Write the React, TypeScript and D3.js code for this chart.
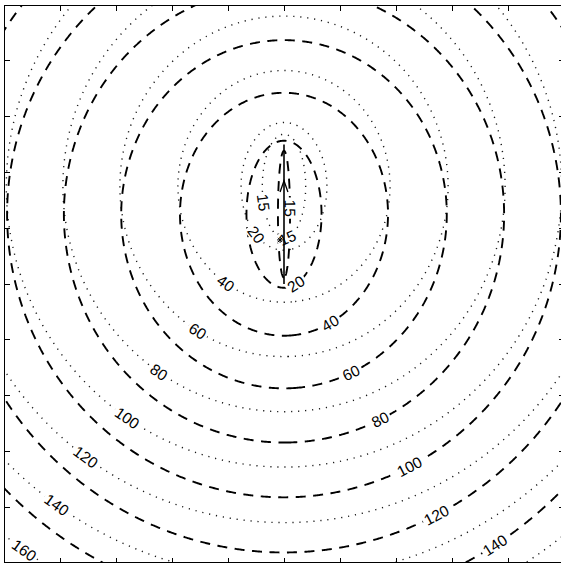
import React, { useMemo } from "react";
import * as d3 from "d3";

const WIDTH = 561;
const HEIGHT = 564;

// Axis extents (km) and tick positions
const X_DOMAIN = [-100, 100];
const Y_DOMAIN = [-100, 100];
const TICKS = [-80, -60, -40, -20, 0, 20, 40, 60, 80];

// Fault trace, rupture direction arrow and epicentre marker (km)
const FAULT = [[0, 0], [0, 50]];
const ARROW = [[-1.4, 33], [0, 37], [1.4, 33]];
const EPICENTER = [-1.4, 15.8];

// Dotted field: confocal surfaces around the upper part of the fault
const DOTTED_FOCI = [[0, 18], [0, 52]];
const DOTTED_OFFSET = [124];
const DOTTED_LEVELS = [15, 20, 40, 60, 80, 100, 120, 140, 160, 180];
// [level, x, y] label anchors
const DOTTED_LABELS = [
  [15, -4.6, 29.7],
  [15, 1.1, 16.5],
  [20, -7.9, 19.4],
  [40, -20, 1.4],
  [60, -30, -15.8],
  [80, -43.6, -30.1],
  [100, -55, -47],
  [120, -70, -61.3],
  [140, -80, -77.4],
  [160, -91.5, -93.5],
];

// Dashed field: confocal surfaces spanning the whole fault
const DASHED_FOCI = [[0, 2.3], [0, 47.7]];
const DASHED_OFFSET = [295];
const DASHED_LEVELS = [15, 20, 40, 60, 80, 100, 120, 140, 160];
const DASHED_LABELS = [
  [15, 2.9, 27.2],
  [20, 3.9, 0.4],
  [40, 17.1, -14.7],
  [60, 24.6, -32.6],
  [80, 35, -49.5],
  [100, 45, -66],
  [120, 54.6, -82.8],
  [140, 75.4, -93.5],
];

const BOX = { left: 4, top: 5, right: 564, bottom: 563 };
const FONT = "'Liberation Sans', Arial, Helvetica, sans-serif";
const FONT_SIZE = 15.5;

const GRID_MIN = -112;
const GRID_MAX = 112;
const STEP = 0.4;

function fieldValue(x: number, y: number, foci: number[][], k: number) {
  const d1 = Math.hypot(x - foci[0][0], y - foci[0][1]);
  const d2 = Math.hypot(x - foci[1][0], y - foci[1][1]);
  const s = (d1 + d2) / 2;
  return Math.sqrt(Math.max(s * s - k, 0));
}

type Ring = [number, number][];

function buildContours(
  foci: number[][],
  k: number,
  levels: number[],
  xs: d3.ScaleLinear<number, number>,
  ys: d3.ScaleLinear<number, number>
) {
  const n = Math.round((GRID_MAX - GRID_MIN) / STEP) + 1;
  const values = new Float64Array(n * n);
  for (let j = 0; j < n; j++) {
    const y = GRID_MAX - j * STEP;
    for (let i = 0; i < n; i++) {
      const x = GRID_MIN + i * STEP;
      values[i + j * n] = fieldValue(x, y, foci, k);
    }
  }
  const gen = d3.contours().size([n, n]).thresholds(levels);
  const result = gen(Array.from(values));
  return result.map((c) => {
    const rings: Ring[] = [];
    c.coordinates.forEach((poly) =>
      poly.forEach((ring) => {
        rings.push(
          ring.map(([cx, cy]) => [
            xs(GRID_MIN + (cx - 0.5) * STEP),
            ys(GRID_MAX - (cy - 0.5) * STEP),
          ]) as Ring
        );
      })
    );
    return { level: c.value, rings };
  });
}

function ringsToPath(rings: Ring[]) {
  return rings
    .map((r) => "M" + r.map((p) => `${p[0].toFixed(2)},${p[1].toFixed(2)}`).join("L") + "Z")
    .join("");
}

function placeLabels(
  contours: { level: number; rings: Ring[] }[],
  labels: number[][],
  xs: d3.ScaleLinear<number, number>,
  ys: d3.ScaleLinear<number, number>
) {
  return labels.map(([level, lx, ly]) => {
    const tx = xs(lx);
    const ty = ys(ly);
    const c = contours.find((cc) => cc.level === level);
    let best = { d: Infinity, x: tx, y: ty, angle: 0 };
    if (c) {
      c.rings.forEach((ring) => {
        const m = ring.length;
        for (let i = 0; i < m; i++) {
          const p = ring[i];
          const d = (p[0] - tx) ** 2 + (p[1] - ty) ** 2;
          if (d < best.d) {
            const a = ring[(i - 4 + m) % m];
            const b = ring[(i + 4) % m];
            let ang = (Math.atan2(b[1] - a[1], b[0] - a[0]) * 180) / Math.PI;
            if (ang > 90) ang -= 180;
            if (ang < -90) ang += 180;
            best = { d, x: p[0], y: p[1], angle: ang };
          }
        }
      });
    }
    const text = String(level);
    const w = text.length * 0.556 * FONT_SIZE;
    return { text, x: best.x, y: best.y, angle: best.angle, w };
  });
}

export default function App() {
  const xs = useMemo(() => d3.scaleLinear().domain(X_DOMAIN).range([BOX.left, BOX.right]), []);
  const ys = useMemo(() => d3.scaleLinear().domain(Y_DOMAIN).range([BOX.bottom, BOX.top]), []);

  const dotted = useMemo(
    () => buildContours(DOTTED_FOCI, DOTTED_OFFSET[0], DOTTED_LEVELS, xs, ys),
    [xs, ys]
  );
  const dashed = useMemo(
    () => buildContours(DASHED_FOCI, DASHED_OFFSET[0], DASHED_LEVELS, xs, ys),
    [xs, ys]
  );
  const dottedLabels = useMemo(() => placeLabels(dotted, DOTTED_LABELS, xs, ys), [dotted, xs, ys]);
  const dashedLabels = useMemo(() => placeLabels(dashed, DASHED_LABELS, xs, ys), [dashed, xs, ys]);
  const allLabels = [...dottedLabels, ...dashedLabels];

  const arrowPath = d3.line()(ARROW.map(([x, y]) => [xs(x), ys(y)] as [number, number]));

  const ex = xs(EPICENTER[0]);
  const ey = ys(EPICENTER[1]);
  const starR = 3;

  const tickLen = 5.5;

  return (
    <svg
      width={WIDTH}
      height={HEIGHT}
      style={{ position: "absolute", left: 0, top: 0, background: "#fff" }}
    >
      <defs>
        <clipPath id="plot-area">
          <rect x={BOX.left} y={BOX.top} width={BOX.right - BOX.left} height={BOX.bottom - BOX.top} />
        </clipPath>
        <mask id="label-gaps" maskUnits="userSpaceOnUse" x={0} y={0} width={WIDTH} height={HEIGHT}>
          <rect x={0} y={0} width={WIDTH} height={HEIGHT} fill="#fff" />
          {allLabels.map((l, i) => (
            <rect
              key={i}
              x={-l.w / 2 - 2}
              y={-7}
              width={l.w + 4}
              height={14}
              fill="#000"
              transform={`translate(${l.x},${l.y}) rotate(${l.angle})`}
            />
          ))}
        </mask>
      </defs>
      <rect x={0} y={0} width={WIDTH} height={HEIGHT} fill="#fff" />
      <g clipPath="url(#plot-area)">
        <g mask="url(#label-gaps)">
          {dotted.map((c) => (
            <path
              key={`dot-${c.level}`}
              d={ringsToPath(c.rings)}
              fill="none"
              stroke="#1a1a1a"
              strokeWidth={1.4}
              strokeDasharray="1.2 5.8"
            />
          ))}
          {dashed.map((c) => (
            <path
              key={`dash-${c.level}`}
              d={ringsToPath(c.rings)}
              fill="none"
              stroke="#000"
              strokeWidth={1.9}
              strokeDasharray="10 7.5"
            />
          ))}
        </g>
        <line
          x1={xs(FAULT[0][0])}
          y1={ys(FAULT[0][1])}
          x2={xs(FAULT[1][0])}
          y2={ys(FAULT[1][1])}
          stroke="#000"
          strokeWidth={1.6}
        />
        <path d={arrowPath || ""} fill="none" stroke="#000" strokeWidth={1.3} />
        <g stroke="#000" strokeWidth={1}>
          <line x1={ex - starR} y1={ey} x2={ex + starR} y2={ey} />
          <line x1={ex} y1={ey - starR} x2={ex} y2={ey + starR} />
          <line x1={ex - starR * 0.7} y1={ey - starR * 0.7} x2={ex + starR * 0.7} y2={ey + starR * 0.7} />
          <line x1={ex - starR * 0.7} y1={ey + starR * 0.7} x2={ex + starR * 0.7} y2={ey - starR * 0.7} />
        </g>
      </g>
      {allLabels.map((l, i) => (
        <text
          key={i}
          transform={`translate(${l.x},${l.y}) rotate(${l.angle})`}
          textAnchor="middle"
          dominantBaseline="central"
          fontFamily={FONT}
          fontSize={FONT_SIZE}
          fill="#000"
        >
          {l.text}
        </text>
      ))}
      {/* axes box with inward ticks on all sides */}
      <g stroke="#000" strokeWidth={1} fill="none" shapeRendering="crispEdges">
        <line x1={BOX.left + 0.5} y1={BOX.top} x2={BOX.left + 0.5} y2={BOX.bottom} />
        <line x1={BOX.left} y1={BOX.top + 0.5} x2={BOX.right} y2={BOX.top + 0.5} />
        <line x1={BOX.left} y1={BOX.bottom - 0.5} x2={BOX.right} y2={BOX.bottom - 0.5} />
        <line x1={BOX.right - 0.5} y1={BOX.top} x2={BOX.right - 0.5} y2={BOX.bottom} />
        {TICKS.map((t) => (
          <g key={t}>
            <line x1={xs(t)} y1={BOX.bottom} x2={xs(t)} y2={BOX.bottom - tickLen} />
            <line x1={xs(t)} y1={BOX.top} x2={xs(t)} y2={BOX.top + tickLen} />
            <line x1={BOX.left} y1={ys(t)} x2={BOX.left + tickLen} y2={ys(t)} />
            <line x1={BOX.right} y1={ys(t)} x2={BOX.right - tickLen} y2={ys(t)} />
          </g>
        ))}
      </g>
    </svg>
  );
}
